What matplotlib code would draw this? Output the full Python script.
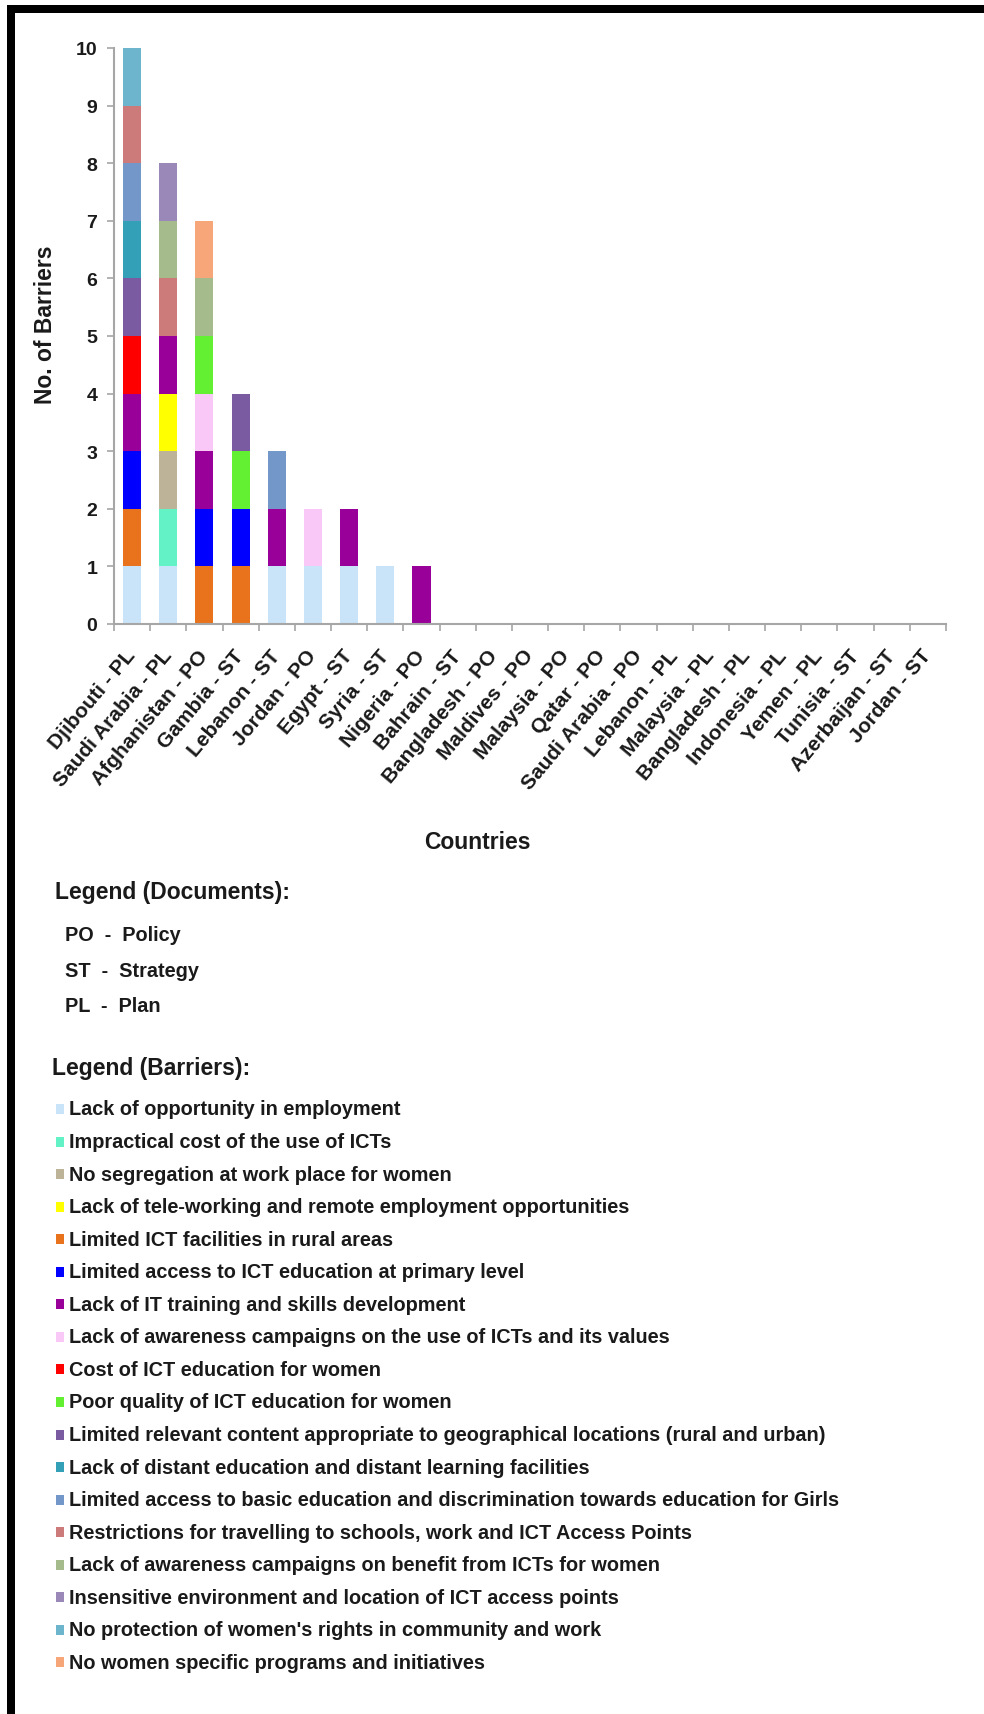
import matplotlib
matplotlib.use("Agg")
import matplotlib.pyplot as plt
from matplotlib.patches import Rectangle
from matplotlib.ticker import FixedLocator, NullFormatter
import numpy as np

# ---------------------------------------------------------------- data
countries = [
    "Djibouti - PL", "Saudi Arabia - PL", "Afghanistan - PO", "Gambia - ST",
    "Lebanon - ST", "Jordan - PO", "Egypt - ST", "Syria - ST", "Nigeria - PO",
    "Bahrain - ST", "Bangladesh - PO", "Maldives - PO", "Malaysia - PO",
    "Qatar - PO", "Saudi Arabia - PO", "Lebanon - PL", "Malaysia - PL",
    "Bangladesh - PL", "Indonesia - PL", "Yemen - PL", "Tunisia - ST",
    "Azerbaijan - ST", "Jordan - ST",
]

barriers = [
    "Lack of opportunity in employment",
    "Impractical cost of the use of ICTs",
    "No segregation at work place for women",
    "Lack of tele-working and remote employment opportunities",
    "Limited ICT facilities in rural areas",
    "Limited access to ICT education at primary level",
    "Lack of IT training and skills development",
    "Lack of awareness campaigns on the use of ICTs and its values",
    "Cost of ICT education for women",
    "Poor quality of ICT education for women",
    "Limited relevant content appropriate to geographical locations (rural and urban)",
    "Lack of distant education and distant learning facilities",
    "Limited access to basic education and discrimination towards education for Girls",
    "Restrictions for travelling to schools, work and ICT Access Points",
    "Lack of awareness campaigns on benefit from ICTs for women",
    "Insensitive environment and location of ICT access points",
    "No protection of women's rights in community and work",
    "No women specific programs and initiatives",
]

barrier_colors = [
    "#C9E3F8", "#62F2C6", "#BDB398", "#FFFF00", "#E8731C", "#0000FF",
    "#990099", "#FAC8F6", "#FF0000", "#63F032", "#7A5AA0", "#34A0B8",
    "#7497CA", "#CD7A7A", "#A6BB8C", "#9A89B8", "#6CB5CC", "#F7A67A",
]

# number of barriers mentioned per document (one row per barrier)
opportunity     = [1, 1, 0, 0, 1, 1, 1, 1, 0, 0, 0, 0, 0, 0, 0, 0, 0, 0, 0, 0, 0, 0, 0]
impractical     = [0, 1, 0, 0, 0, 0, 0, 0, 0, 0, 0, 0, 0, 0, 0, 0, 0, 0, 0, 0, 0, 0, 0]
segregation     = [0, 1, 0, 0, 0, 0, 0, 0, 0, 0, 0, 0, 0, 0, 0, 0, 0, 0, 0, 0, 0, 0, 0]
teleworking     = [0, 1, 0, 0, 0, 0, 0, 0, 0, 0, 0, 0, 0, 0, 0, 0, 0, 0, 0, 0, 0, 0, 0]
rural           = [1, 0, 1, 1, 0, 0, 0, 0, 0, 0, 0, 0, 0, 0, 0, 0, 0, 0, 0, 0, 0, 0, 0]
primary         = [1, 0, 1, 1, 0, 0, 0, 0, 0, 0, 0, 0, 0, 0, 0, 0, 0, 0, 0, 0, 0, 0, 0]
it_training     = [1, 1, 1, 0, 1, 0, 1, 0, 1, 0, 0, 0, 0, 0, 0, 0, 0, 0, 0, 0, 0, 0, 0]
awareness_use   = [0, 0, 1, 0, 0, 1, 0, 0, 0, 0, 0, 0, 0, 0, 0, 0, 0, 0, 0, 0, 0, 0, 0]
edu_cost        = [1, 0, 0, 0, 0, 0, 0, 0, 0, 0, 0, 0, 0, 0, 0, 0, 0, 0, 0, 0, 0, 0, 0]
poor_quality    = [0, 0, 1, 1, 0, 0, 0, 0, 0, 0, 0, 0, 0, 0, 0, 0, 0, 0, 0, 0, 0, 0, 0]
content         = [1, 0, 0, 1, 0, 0, 0, 0, 0, 0, 0, 0, 0, 0, 0, 0, 0, 0, 0, 0, 0, 0, 0]
distant         = [1, 0, 0, 0, 0, 0, 0, 0, 0, 0, 0, 0, 0, 0, 0, 0, 0, 0, 0, 0, 0, 0, 0]
basic_edu       = [1, 0, 0, 0, 1, 0, 0, 0, 0, 0, 0, 0, 0, 0, 0, 0, 0, 0, 0, 0, 0, 0, 0]
travel          = [1, 1, 0, 0, 0, 0, 0, 0, 0, 0, 0, 0, 0, 0, 0, 0, 0, 0, 0, 0, 0, 0, 0]
awareness_ben   = [0, 1, 1, 0, 0, 0, 0, 0, 0, 0, 0, 0, 0, 0, 0, 0, 0, 0, 0, 0, 0, 0, 0]
insensitive     = [0, 1, 0, 0, 0, 0, 0, 0, 0, 0, 0, 0, 0, 0, 0, 0, 0, 0, 0, 0, 0, 0, 0]
rights          = [1, 0, 0, 0, 0, 0, 0, 0, 0, 0, 0, 0, 0, 0, 0, 0, 0, 0, 0, 0, 0, 0, 0]
programs        = [0, 0, 1, 0, 0, 0, 0, 0, 0, 0, 0, 0, 0, 0, 0, 0, 0, 0, 0, 0, 0, 0, 0]

series = [opportunity, impractical, segregation, teleworking, rural, primary,
          it_training, awareness_use, edu_cost, poor_quality, content, distant,
          basic_edu, travel, awareness_ben, insensitive, rights, programs]

doc_legend = ["PO  -  Policy", "ST  -  Strategy", "PL  -  Plan"]

# ---------------------------------------------------------------- figure
plt.rcParams["font.family"] = ["Liberation Sans", "DejaVu Sans"]
plt.rcParams["font.weight"] = "bold"

W, H = 984, 1715
fig = plt.figure(figsize=(W / 100, H / 100), dpi=100)
fig.patch.set_facecolor("white")
TEXT = "#1a1a1a"


def fx(x):
    return x / W


def fy(y):
    return 1 - y / H


# ---------------------------------------------------------------- chart
ax_left, ax_right, ax_top, ax_bottom = 114, 946, 49, 625
ax = fig.add_axes([fx(ax_left), fy(ax_bottom),
                   (ax_right - ax_left) / W, (ax_bottom - ax_top) / H])

x = np.arange(len(countries))
bottom = np.zeros(len(countries))
for vals, col in zip(series, barrier_colors):
    vals = np.array(vals, dtype=float)
    ax.bar(x, vals, width=0.5, bottom=bottom, color=col, edgecolor="none",
           zorder=2)
    bottom += vals

ax.set_xlim(-0.5, len(countries) - 0.5)
ax.set_ylim(0, 10)
ax.set_yticks(range(0, 11))
ax.set_yticklabels([str(v) for v in range(0, 11)], fontsize=14,
                   fontweight="bold", color=TEXT)

ax.set_xticks(x)
ax.set_xticklabels(countries, rotation=50, ha="right", va="center",
                   rotation_mode="anchor", fontsize=15, fontweight="bold",
                   color=TEXT)
ax.tick_params(axis="x", which="major", length=0, pad=20)
ax.xaxis.set_minor_locator(FixedLocator(np.arange(-0.5, len(countries), 1.0)))
ax.xaxis.set_minor_formatter(NullFormatter())
ax.tick_params(axis="x", which="minor", length=5, width=1.2, color="#A6A6A6",
               direction="out")
ax.tick_params(axis="y", length=5, width=1.2, color="#A6A6A6",
               direction="out", pad=7)

for side in ("top", "right"):
    ax.spines[side].set_visible(False)
for side in ("left", "bottom"):
    ax.spines[side].set_color("#A6A6A6")
    ax.spines[side].set_linewidth(1.5)
ax.set_facecolor("white")

fig.text(fx(46), fy(325), "No. of Barriers", rotation=90, ha="center",
         va="center", fontsize=16.5, fontweight="bold", color=TEXT)
fig.text(fx(477), fy(843), "Countries", ha="center", va="center",
         fontsize=16.5, fontweight="bold", color=TEXT)

# ---------------------------------------------------------------- legends
fig.text(fx(55), fy(893), "Legend (Documents):", ha="left", va="center",
         fontsize=16.5, fontweight="bold", color=TEXT)
for i, label in enumerate(doc_legend):
    fig.text(fx(65), fy(936 + 35.5 * i), label, ha="left", va="center",
             fontsize=14.3, fontweight="bold", color=TEXT)

fig.text(fx(52), fy(1068), "Legend (Barriers):", ha="left", va="center",
         fontsize=16.5, fontweight="bold", color=TEXT)
row0, step = 1110, 32.55
for i, (label, col) in enumerate(zip(barriers, barrier_colors)):
    yc = row0 + step * i
    fig.patches.append(Rectangle((fx(56), fy(yc + 5)), 8 / W, 10 / H,
                                 transform=fig.transFigure, facecolor=col,
                                 edgecolor="none"))
    fig.text(fx(69), fy(yc), label, ha="left", va="center",
             fontsize=14.3, fontweight="bold", color=TEXT)

# ---------------------------------------------------------------- frame
fig.patches.append(Rectangle((fx(7), fy(14)), (W - 7) / W, 8 / H,
                             transform=fig.transFigure, facecolor="black",
                             edgecolor="none"))
fig.patches.append(Rectangle((fx(7), 0), 8 / W, fy(6),
                             transform=fig.transFigure, facecolor="black",
                             edgecolor="none"))

fig.savefig("out.png", dpi=100, facecolor="white")
